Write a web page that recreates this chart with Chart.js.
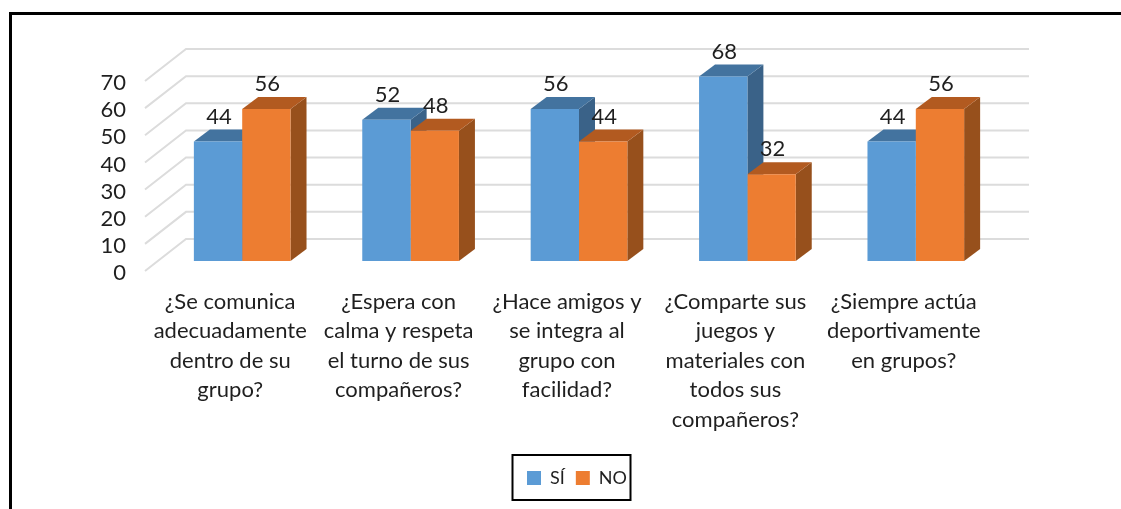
<!DOCTYPE html>
<html>
<head>
<meta charset="utf-8">
<style>
  html, body { margin: 0; padding: 0; background: #fff; overflow: hidden; }
  #frame { position: absolute; left: 9px; top: 12px; width: 1200px; height: 600px; border: 3px solid #000; border-right: none; }
  #myChart { position: absolute; left: 0; top: 0; }
</style>
<script src="https://cdn.jsdelivr.net/npm/chart.js@4"></script>
</head>
<body>
<div id="frame"></div>
<canvas id="myChart" width="1121" height="509"></canvas>
<script>
const categories = [
  ['¿Se comunica', 'adecuadamente', 'dentro de su', 'grupo?'],
  ['¿Espera con', 'calma y respeta', 'el turno de sus', 'compañeros?'],
  ['¿Hace amigos y', 'se integra al', 'grupo con', 'facilidad?'],
  ['¿Comparte sus', 'juegos y', 'materiales con', 'todos sus', 'compañeros?'],
  ['¿Siempre actúa', 'deportivamente', 'en grupos?']
];
const siValues = [44, 52, 56, 68, 44];
const noValues = [56, 48, 44, 32, 56];
const yTicks = [0, 10, 20, 30, 40, 50, 60, 70];

const fontName = 'Lato';
const textColor = '#1f1f1f';
const depthX = 16;
const depthY = 12;

// top and side faces for each series
const faces = [
  { top: '#43739F', side: '#3A6288' },
  { top: '#B25A20', side: '#97501C' }
];

const walls3d = {
  id: 'walls3d',
  afterLayout(chart) {
    // legend sits right of the plot centre in the original, and higher
    chart.legend.left += 77;
    chart.legend.right += 77;
    chart.legend.top -= 12;
    chart.legend.bottom -= 12;
  },
  beforeDatasetsDraw(chart) {
    const ctx = chart.ctx;
    const y = chart.scales.y;
    ctx.save();
    ctx.strokeStyle = '#DCDCDC';
    ctx.lineWidth = 2;
    yTicks.forEach(v => {
      const py = y.getPixelForValue(v);
      ctx.beginPath();
      ctx.moveTo(145, py + 10);
      ctx.lineTo(186, py - 22);
      ctx.lineTo(1029, py - 22);
      ctx.stroke();
    });
    chart.data.datasets.forEach((ds, i) => {
      chart.getDatasetMeta(i).data.forEach(bar => {
        const l = bar.x - bar.width / 2;
        const r = bar.x + bar.width / 2;
        const t = bar.y;
        const b = bar.base;
        ctx.fillStyle = faces[i].side;
        ctx.beginPath();
        ctx.moveTo(r, t);
        ctx.lineTo(r + depthX, t - depthY);
        ctx.lineTo(r + depthX, b - depthY);
        ctx.lineTo(r, b);
        ctx.closePath();
        ctx.fill();
        ctx.fillStyle = faces[i].top;
        ctx.beginPath();
        ctx.moveTo(l, t);
        ctx.lineTo(l + depthX, t - depthY);
        ctx.lineTo(r + depthX, t - depthY);
        ctx.lineTo(r, t);
        ctx.closePath();
        ctx.fill();
      });
    });
    ctx.restore();
  },
  afterDatasetsDraw(chart) {
    const ctx = chart.ctx;
    ctx.save();
    ctx.fillStyle = textColor;
    ctx.font = '22px ' + fontName;
    ctx.textAlign = 'center';
    ctx.textBaseline = 'middle';
    chart.data.datasets.forEach((ds, i) => {
      chart.getDatasetMeta(i).data.forEach((bar, j) => {
        ctx.fillText(ds.data[j], bar.x + 1, bar.y - 25);
      });
    });
    ctx.restore();
  },
  afterDraw(chart) {
    const ctx = chart.ctx;
    ctx.save();
    ctx.strokeStyle = '#000';
    ctx.lineWidth = 2;
    ctx.strokeRect(512.5, 455, 118, 45);
    ctx.restore();
  }
};

new Chart(document.getElementById('myChart'), {
  type: 'bar',
  data: {
    labels: categories,
    datasets: [
      { label: 'SÍ', data: siValues, backgroundColor: '#5B9BD5', categoryPercentage: 0.574, barPercentage: 1 },
      { label: 'NO', data: noValues, backgroundColor: '#ED7D31', categoryPercentage: 0.574, barPercentage: 1 }
    ]
  },
  options: {
    responsive: false,
    animation: false,
    layout: { padding: { left: 0, right: 121, top: 71, bottom: 0 } },
    scales: {
      x: {
        grid: { display: false },
        border: { display: false },
        afterFit(scale) { scale.height = 209; },
        ticks: {
          autoSkip: false,
          maxRotation: 0,
          minRotation: 0,
          labelOffset: -12,
          padding: 18,
          color: textColor,
          font: { family: fontName, size: 22, lineHeight: 1.34 }
        }
      },
      y: {
        min: 0,
        max: 70,
        grid: { display: false },
        border: { display: false },
        afterFit(scale) { scale.width = 158; },
        afterBuildTicks(scale) { scale.ticks = yTicks.map(v => ({ value: v })); },
        ticks: {
          autoSkip: false,
          labelOffset: 12,
          padding: 24,
          color: textColor,
          font: { family: fontName, size: 22 }
        }
      }
    },
    plugins: {
      tooltip: { enabled: false },
      legend: {
        position: 'bottom',
        labels: { boxWidth: 14, boxHeight: 14, padding: 11, color: textColor, font: { family: fontName, size: 18 } }
      }
    }
  },
  plugins: [walls3d]
});
</script>
</body>
</html>
